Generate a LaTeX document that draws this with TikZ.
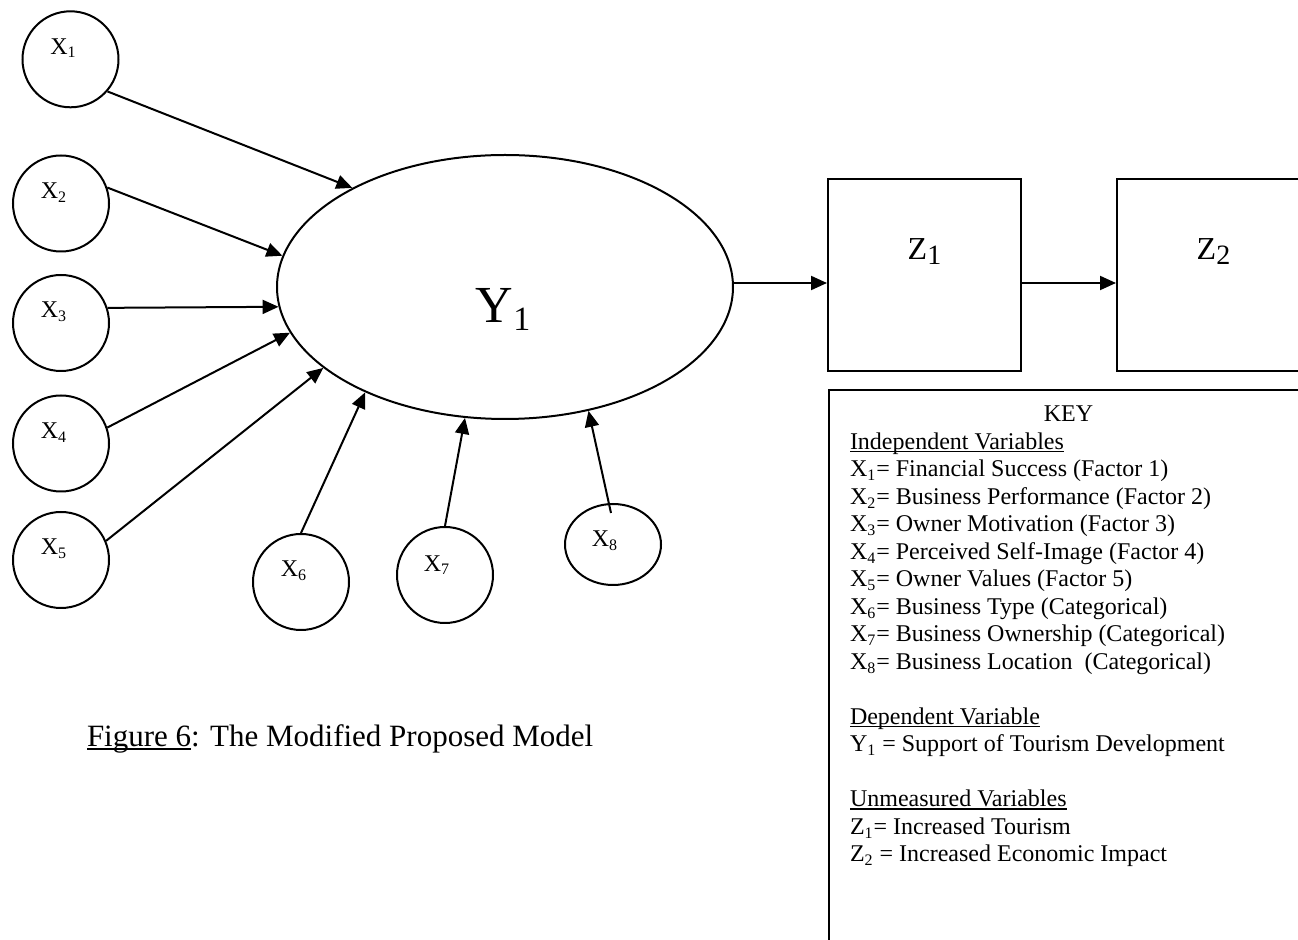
\documentclass[tikz,border=0pt]{standalone}
\usepackage{fontspec}
\setmainfont{Liberation Serif}
\usetikzlibrary{shapes.geometric,arrows.meta,calc}
\newcommand{\myul}[1]{\setbox0\hbox{#1}\rlap{\rule[-1.3pt]{\wd0}{0.6pt}}\box0}
\begin{document}
\begin{tikzpicture}[x=0.5pt,y=-0.5pt,line width=1pt,
  var/.style={circle,draw,minimum size=48pt,inner sep=0pt},
  arr/.style={-{Triangle[length=8pt,width=7pt]}},
  zbox/.style={draw,rectangle,minimum width=96.5pt,minimum height=96pt,inner sep=0pt},
  keytxt/.style={anchor=base west,inner sep=0pt,font=\fontsize{12}{13.75}\selectfont},
  xlab/.style={font=\fontsize{12}{14}\selectfont,inner sep=0pt}
]
\useasboundingbox (0,0) rectangle (1298,940);

% independent variables
\node[var,label={[xlab,xshift=-3.5pt,yshift=5.5pt]center:X\textsubscript{1}}] (x1) at (70.5,59.3) {};
\node[var,label={[xlab,xshift=-3.5pt,yshift=5.5pt]center:X\textsubscript{2}}] (x2) at (61,203.5) {};
\node[var,label={[xlab,xshift=-3.5pt,yshift=5.5pt]center:X\textsubscript{3}}] (x3) at (61,323) {};
\node[var,label={[xlab,xshift=-3.5pt,yshift=5.5pt]center:X\textsubscript{4}}] (x4) at (61,443.5) {};
\node[var,label={[xlab,xshift=-3.5pt,yshift=5.5pt]center:X\textsubscript{5}}] (x5) at (61,560) {};
\node[var,label={[xlab,xshift=-3.5pt,yshift=5.5pt]center:X\textsubscript{6}}] (x6) at (301,582) {};
\node[var,label={[xlab,xshift=-4pt,yshift=5pt]center:X\textsubscript{7}}] (x7) at (445,575) {};
\node[ellipse,draw,minimum width=48pt,minimum height=40.5pt,inner sep=0pt,
      label={[xlab,xshift=-4pt,yshift=2pt]center:X\textsubscript{8}}] (x8) at (613,544.5) {};

% dependent variable
\node[ellipse,draw,minimum width=228pt,minimum height=132pt,inner sep=0pt,
      label={[inner sep=0pt,xshift=-1pt,yshift=-11pt]center:{\fontsize{26}{28}\selectfont Y}{\fontsize{17}{18}\selectfont\raisebox{-4pt}{1}}}] (y1) at (505,287) {};

% unmeasured variables
\node[zbox,label={[inner sep=0pt,yshift=11.5pt]center:{\fontsize{16}{18}\selectfont Z}{\fontsize{14}{16}\selectfont\raisebox{-2.5pt}{1}}}] (z1) at (924.5,275) {};
\node[zbox,label={[inner sep=0pt,yshift=11.5pt]center:{\fontsize{16}{18}\selectfont Z}{\fontsize{14}{16}\selectfont\raisebox{-2.5pt}{2}}}] (z2) at (1213.5,275) {};

% connectors
\draw[arr] (x1.319) -- (y1.147.5);
\draw[arr] (x2.19) -- (y1.172);
\draw[arr] (x3.18.4) -- (y1.185);
\draw[arr] (x4.19) -- (y1.192.4);
\draw[arr] (x5.23) -- (y1.204);
\draw[arr] (x6.90) -- (y1.217);
\draw[arr] (x7.90) -- (y1.253.6);
\coordinate (x8s) at ($(x8.center)+(-2,-31.5)$);
\draw[arr] (x8s) -- (y1.304.6);
\draw[arr] (y1.1) -- (y1.1 -| z1.west);
\draw[arr] ([yshift=-4pt]z1.east) -- ([yshift=-4pt]z2.west);

% key
\node[draw,rectangle,anchor=north west,minimum width=246pt,minimum height=290pt,inner sep=0pt] (key) at (828,389) {};
\node[anchor=base,inner sep=0pt,font=\fontsize{12}{13.75}\selectfont] (keyt) at (1068.5,422) {KEY};
\node[keytxt] (k1) at (849,449.5) {\myul{Independent Variables}};
\node[keytxt] (k2) at (849,477) {X\textsubscript{1}= Financial Success (Factor 1)};
\node[keytxt] (k3) at (849,504.5) {X\textsubscript{2}= Business Performance (Factor 2)};
\node[keytxt] (k4) at (849,532) {X\textsubscript{3}= Owner Motivation (Factor 3)};
\node[keytxt] (k5) at (849,559.5) {X\textsubscript{4}= Perceived Self-Image (Factor 4)};
\node[keytxt] (k6) at (849,587) {X\textsubscript{5}= Owner Values (Factor 5)};
\node[keytxt] (k7) at (849,614.5) {X\textsubscript{6}= Business Type (Categorical)};
\node[keytxt] (k8) at (849,642) {X\textsubscript{7}= Business Ownership (Categorical)};
\node[keytxt] (k9) at (849,669.5) {X\textsubscript{8}= Business Location\ \ (Categorical)};
\node[keytxt] (k10) at (849,724.5) {\myul{Dependent Variable}};
\node[keytxt] (k11) at (849,752) {Y\textsubscript{1} = Support of Tourism Development};
\node[keytxt] (k12) at (849,807) {\myul{Unmeasured Variables}};
\node[keytxt] (k13) at (849,834.5) {Z\textsubscript{1}= Increased Tourism};
\node[keytxt] (k14) at (849,862) {Z\textsubscript{2} = Increased Economic Impact};

% caption
\node[anchor=base west,inner sep=0pt,font=\fontsize{15.5}{18}\selectfont] (cap) at (86,747) {\myul{Figure 6}: The Modified Proposed Model};
\end{tikzpicture}
\end{document}
